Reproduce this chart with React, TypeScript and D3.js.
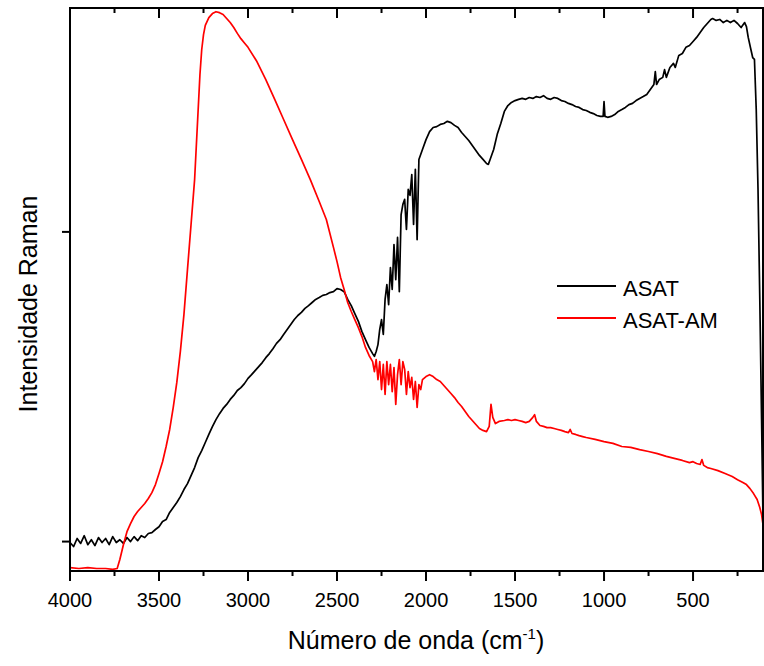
import * as d3 from "d3";

// wavenumber (cm-1), intensity (arb. units; 0 and 1000 are the two left ticks)
const asat: [number, number][] = [
  [4000, -3], [3980, -16], [3960, 10], [3940, -6], [3920, 19], [3900, -10], [3880, 6], [3860, -13],
  [3840, 13], [3820, -3], [3800, 10], [3780, -10], [3760, 16], [3740, -3], [3720, 6], [3700, -6],
  [3680, 13], [3660, 0], [3640, 16], [3620, 3], [3600, 19], [3580, 13], [3560, 26], [3540, 29],
  [3520, 39], [3500, 48], [3480, 65], [3460, 71], [3440, 94], [3420, 110], [3400, 126], [3380, 145],
  [3360, 168], [3340, 187], [3320, 213], [3300, 239], [3280, 271], [3260, 294], [3240, 320], [3220, 346],
  [3200, 371], [3180, 394], [3160, 413], [3140, 430], [3120, 443], [3100, 459], [3080, 472], [3060, 488],
  [3040, 497], [3020, 510], [3000, 527], [2980, 539], [2960, 552], [2940, 565], [2920, 578], [2900, 594],
  [2880, 607], [2860, 623], [2840, 640], [2820, 652], [2800, 669], [2780, 685], [2760, 701], [2740, 717],
  [2720, 730], [2700, 740], [2680, 753], [2660, 762], [2640, 772], [2620, 782], [2600, 788], [2580, 795],
  [2560, 798], [2540, 804], [2520, 807], [2500, 817], [2480, 814], [2460, 807], [2440, 782], [2420, 762],
  [2400, 736], [2380, 711], [2360, 678], [2340, 652], [2320, 627], [2300, 607], [2290, 598], [2280, 614],
  [2270, 636], [2260, 685], [2250, 717], [2240, 669], [2230, 782], [2220, 830], [2210, 765], [2200, 885],
  [2190, 814], [2180, 959], [2170, 846], [2160, 982], [2150, 807], [2140, 1056], [2130, 1089], [2120, 1105],
  [2110, 1008], [2100, 1137], [2090, 1118], [2080, 1185], [2070, 1024], [2060, 1202], [2050, 975], [2040, 1234],
  [2020, 1266], [2000, 1298], [1980, 1324], [1960, 1337], [1940, 1340], [1920, 1347], [1900, 1350], [1880, 1357],
  [1860, 1353], [1840, 1344], [1820, 1337], [1800, 1321], [1780, 1308], [1760, 1295], [1740, 1279], [1720, 1263],
  [1700, 1247], [1680, 1234], [1660, 1221], [1650, 1218], [1640, 1234], [1620, 1266], [1600, 1315], [1580, 1350],
  [1560, 1389], [1540, 1408], [1520, 1418], [1500, 1424], [1480, 1428], [1460, 1431], [1440, 1428], [1420, 1434],
  [1400, 1431], [1380, 1437], [1360, 1434], [1340, 1440], [1320, 1431], [1300, 1428], [1280, 1434], [1260, 1431],
  [1240, 1424], [1220, 1421], [1200, 1415], [1180, 1411], [1160, 1405], [1140, 1402], [1120, 1395], [1100, 1392],
  [1080, 1386], [1060, 1382], [1040, 1376], [1020, 1373], [1005, 1373], [1000, 1421], [995, 1373], [980, 1370],
  [960, 1373], [940, 1379], [920, 1389], [900, 1395], [880, 1402], [860, 1411], [840, 1415], [820, 1424],
  [800, 1431], [780, 1437], [760, 1444], [740, 1460], [720, 1476], [712, 1518], [705, 1476], [690, 1492],
  [670, 1499], [660, 1524], [650, 1499], [630, 1531], [610, 1544], [600, 1531], [580, 1570], [560, 1576],
  [540, 1596], [520, 1602], [500, 1615], [480, 1628], [460, 1644], [440, 1660], [420, 1673], [400, 1686],
  [390, 1689], [370, 1683], [350, 1686], [330, 1676], [310, 1683], [290, 1676], [270, 1683], [250, 1673],
  [230, 1660], [210, 1676], [200, 1663], [190, 1628], [175, 1589], [165, 1563], [155, 1557], [145, 1395],
  [135, 1137], [125, 782], [115, 394], [107, 71],
];

const asatAm: [number, number][] = [
  [4000, -84], [3950, -87], [3900, -84], [3850, -87], [3800, -87], [3760, -90], [3735, -87], [3720, -58],
  [3700, -10], [3680, 32], [3660, 58], [3640, 81], [3620, 97], [3600, 110], [3580, 123], [3560, 139],
  [3540, 158], [3520, 184], [3500, 220], [3480, 258], [3460, 307], [3440, 362], [3420, 433], [3400, 514],
  [3380, 614], [3360, 733], [3340, 879], [3320, 1024], [3300, 1169], [3290, 1282], [3280, 1395], [3270, 1508],
  [3260, 1589], [3250, 1637], [3240, 1667], [3220, 1692], [3200, 1705], [3180, 1711], [3160, 1708], [3140, 1702],
  [3120, 1689], [3100, 1676], [3080, 1660], [3060, 1641], [3040, 1624], [3020, 1610], [3000, 1596], [2950, 1550],
  [2900, 1492], [2850, 1428], [2800, 1363], [2750, 1298], [2700, 1234], [2650, 1169], [2600, 1098], [2560, 1040],
  [2520, 950], [2500, 904], [2480, 853], [2460, 814], [2440, 772], [2420, 743], [2400, 717], [2380, 691],
  [2360, 662], [2340, 627], [2320, 601], [2300, 581], [2290, 549], [2280, 588], [2270, 523], [2260, 581],
  [2250, 491], [2240, 572], [2230, 475], [2220, 581], [2210, 507], [2200, 572], [2190, 484], [2180, 562],
  [2170, 443], [2160, 539], [2150, 588], [2140, 507], [2130, 581], [2120, 556], [2110, 475], [2100, 549],
  [2090, 497], [2080, 530], [2070, 459], [2060, 517], [2050, 433], [2040, 507], [2030, 491], [2020, 523],
  [2000, 533], [1980, 539], [1960, 533], [1940, 523], [1920, 517], [1900, 504], [1880, 491], [1860, 478],
  [1840, 465], [1820, 449], [1800, 436], [1780, 420], [1760, 404], [1740, 391], [1720, 378], [1700, 365],
  [1680, 359], [1660, 355], [1645, 372], [1635, 443], [1625, 401], [1610, 381], [1590, 388], [1560, 391],
  [1540, 394], [1520, 391], [1500, 394], [1480, 391], [1460, 388], [1440, 384], [1420, 388], [1400, 401],
  [1390, 410], [1380, 388], [1360, 375], [1340, 372], [1320, 368], [1300, 368], [1280, 365], [1260, 362],
  [1240, 359], [1220, 355], [1200, 352], [1190, 362], [1180, 349], [1160, 346], [1140, 342], [1120, 339],
  [1100, 336], [1050, 330], [1000, 323], [950, 317], [900, 307], [850, 304], [800, 297], [750, 291],
  [700, 284], [650, 275], [600, 268], [560, 262], [520, 255], [500, 258], [480, 252], [460, 249],
  [450, 265], [440, 246], [420, 239], [400, 236], [360, 229], [320, 220], [280, 210], [250, 200],
  [220, 191], [200, 184], [180, 171], [160, 155], [140, 136], [125, 110], [115, 87], [107, 55],
];

const seriesNames = ["ASAT", "ASAT-AM"];
const seriesColors = ["#000000", "#ff0000"];
const xMajorTicks = [4000, 3500, 3000, 2500, 2000, 1500, 1000, 500];
const xMinorTicks = [3750, 3250, 2750, 2250, 1750, 1250, 750, 250];
const yTicks = [0, 1000];

const W = 764;
const H = 666;
const left = 70, right = 763, top = 8, bottom = 571;
const font = "'Liberation Sans', Arial, sans-serif";

export default function App() {
  const x = d3.scaleLinear().domain([4000, 107]).range([left, right]);
  const y = d3.scaleLinear().domain([-95, 1723]).range([bottom, top]);
  const line = d3.line<[number, number]>().x(d => x(d[0])).y(d => y(d[1]));
  const data = [asat, asatAm];

  return (
    <svg width={W} height={H} style={{ position: "absolute", left: 0, top: 0, background: "#fff" }}>
      <defs>
        <clipPath id="plot">
          <rect x={left} y={top} width={right - left} height={bottom - top} />
        </clipPath>
      </defs>
      <g clipPath="url(#plot)">
        {data.map((d, i) => (
          <path key={i} d={line(d) ?? ""} fill="none" stroke={seriesColors[i]} strokeWidth={1.7} strokeLinejoin="round" />
        ))}
      </g>
      <rect x={left} y={top} width={right - left} height={bottom - top} fill="none" stroke="#000" strokeWidth={2} />
      {/* bottom and top ticks */}
      {xMajorTicks.map(t => (
        <g key={"M" + t}>
          <line x1={x(t)} x2={x(t)} y1={bottom} y2={bottom + 10} stroke="#000" strokeWidth={2} />
          <line x1={x(t)} x2={x(t)} y1={top} y2={top + 10} stroke="#000" strokeWidth={2} />
          <text x={x(t)} y={bottom + 36} textAnchor="middle" fontFamily={font} fontSize={20}>{t}</text>
        </g>
      ))}
      {xMinorTicks.map(t => (
        <g key={"m" + t}>
          <line x1={x(t)} x2={x(t)} y1={bottom} y2={bottom + 5} stroke="#000" strokeWidth={2} />
          <line x1={x(t)} x2={x(t)} y1={top} y2={top + 5} stroke="#000" strokeWidth={2} />
        </g>
      ))}
      {yTicks.map(t => (
        <line key={t} x1={left - 8} x2={left} y1={y(t)} y2={y(t)} stroke="#000" strokeWidth={2} />
      ))}
      <text x={416} y={649} textAnchor="middle" fontFamily={font} fontSize={25}>
        Número de onda (cm<tspan dy={-10} fontSize={15}>-1</tspan><tspan dy={10}>)</tspan>
      </text>
      <text transform="translate(37,304) rotate(-90)" textAnchor="middle" fontFamily={font} fontSize={25}>
        Intensidade Raman
      </text>
      {seriesNames.map((n, i) => (
        <g key={n}>
          <line x1={557} x2={616} y1={286 + i * 32} y2={286 + i * 32} stroke={seriesColors[i]} strokeWidth={2} />
          <text x={623} y={296 + i * 32} fontFamily={font} fontSize={22}>{n}</text>
        </g>
      ))}
    </svg>
  );
}
